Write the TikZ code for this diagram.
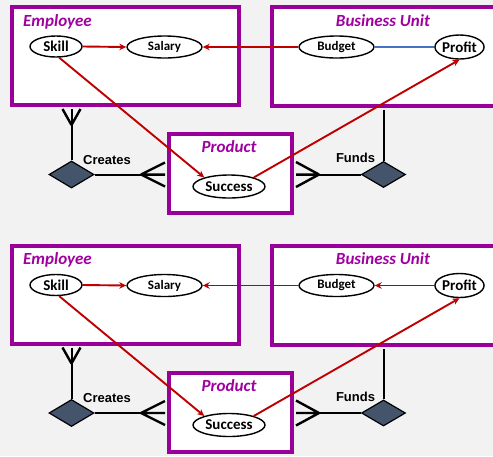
\documentclass[tikz,border=0pt]{standalone}
\usepackage{fontspec}
\newfontfamily\calib{Carlito}
\newfontfamily\arialf{Liberation Sans}
\usetikzlibrary{shapes.geometric,arrows.meta,calc}
\definecolor{bgcol}{HTML}{F2F2F2}
\definecolor{boxpurple}{HTML}{990099}
\definecolor{titlepurple}{HTML}{A000A0}
\definecolor{arrred}{HTML}{C00000}
\definecolor{linkblue}{HTML}{4472C4}
\definecolor{relfill}{HTML}{44546A}
\tikzset{
  entity/.style={draw=boxpurple, line width=4pt, fill=white, rectangle, inner sep=0pt},
  etitle/.style={text=titlepurple, font=\calib\bfseries\itshape\fontsize{17}{20}\selectfont, inner sep=0pt},
  attr/.style={draw=black, line width=1.4pt, fill=white, ellipse, inner sep=0pt,
    font=\calib\bfseries\fontsize{#1}{#1}\selectfont},
  rel/.style={diamond, draw=black, line width=1.2pt, fill=relfill, inner sep=0pt},
  rlabel/.style={font=\arialf\bfseries\fontsize{13}{15}\selectfont, inner sep=0pt},
  conn/.style={draw=black, line width=2pt, line cap=butt},
  crow/.style={draw=black, line width=2.4pt, line cap=butt},
  dep/.style={draw=arrred, line width=1.9pt, -{Stealth[length=7pt,width=6.5pt]}},
  link/.style={draw=linkblue, line width=1.9pt},
}
% One ER panel: #1 = name prefix, #2 = vertical offset
\newcommand\erhalf[2]{%
  \begin{scope}[shift={(0,#2)}]
    % entities
    \node[entity, minimum width=227pt, minimum height=98pt] (#1emp) at (125.5,56) {};
    \node[entity, minimum width=243pt, minimum height=99pt] (#1bu) at (393.5,56.5) {};
    \node[entity, minimum width=123pt, minimum height=79pt] (#1prod) at (230.5,173.5) {};
    \node[etitle, anchor=base west] (#1tEmp) at (23,26) {Employee};
    \node[etitle, anchor=base] (#1tBu) at (383,26) {Business Unit};
    \node[etitle, anchor=base] (#1tProd) at (229,152.5) {Product};
    % relationships
    \node[rel, minimum width=45pt, minimum height=27pt] (#1cr) at (71.5,174.5) {};
    \node[rel, minimum width=44pt, minimum height=26pt] (#1fu) at (383.5,174.5) {};
    \node[rlabel] (#1lCr) at (107,160) {Creates};
    \node[rlabel] (#1lFu) at (355.5,158) {Funds};
    % Creates -- Employee (many)
    \draw[conn] (#1cr.north) -- ($(#1cr.north |- #1emp.south)+(0,2)$);
    \coordinate (#1ce) at ($(#1cr.north |- #1emp.south)+(0,18)$);
    \draw[crow] (#1ce) -- ++(-9,-16) (#1ce) -- ++(9,-16);
    % Creates -- Product (many)
    \draw[conn] (#1cr.east) -- ($(#1cr.east -| #1prod.west)+(-2,0)$);
    \coordinate (#1cp) at ($(#1cr.east -| #1prod.west)+(-26,0)$);
    \draw[crow] (#1cp) -- ++(24,-12) (#1cp) -- ++(24,12) (#1cp) -- ++(24,0);
    % Funds -- Business Unit
    \draw[conn] (#1fu.north) -- ($(#1fu.north |- #1bu.south)+(0,2)$);
    % Funds -- Product (many)
    \draw[conn] (#1fu.west) -- ($(#1fu.west -| #1prod.east)+(2,0)$);
    \coordinate (#1fp) at ($(#1fu.west -| #1prod.east)+(25,0)$);
    \draw[crow] (#1fp) -- ++(-23,-12.5) (#1fp) -- ++(-23,12.5) (#1fp) -- ++(-23,0);
    % attributes
    \node[attr=15, minimum width=52pt, minimum height=21pt] (#1skill) at (56,46.5) {Skill};
    \node[attr=13, minimum width=75pt, minimum height=22pt] (#1salary) at (164.5,47) {Salary};
    \node[attr=13, minimum width=75pt, minimum height=22pt] (#1budget) at (336.5,47) {Budget};
    \node[attr=15, minimum width=47pt, minimum height=24pt] (#1profit) at (459.5,47) {Profit};
    \node[attr=15, minimum width=72pt, minimum height=23pt] (#1success) at (229,186.5) {Success};
    % dependencies
    \draw[dep] (#1skill.east) -- (#1salary.west);
    \draw[dep] (#1budget.west) -- (#1salary.east);
    \draw[dep] (#1skill.-74) -- (#1success.160);
    \draw[dep] (#1success.20) -- (#1profit.south);
  \end{scope}%
}
\begin{document}
\begin{tikzpicture}[x=1pt, y=-1pt]
  \useasboundingbox (0,0) rectangle (493,456);
  \clip (0,0) rectangle (493,456);
  \fill[bgcol] (0,0) rectangle (493,456);
  \erhalf{t}{0}
  \draw[link] (tbudget.east) -- (tprofit.west);
  \erhalf{b}{238.5}
  \draw[dep] (bprofit.west) -- (bbudget.east);
\end{tikzpicture}
\end{document}
